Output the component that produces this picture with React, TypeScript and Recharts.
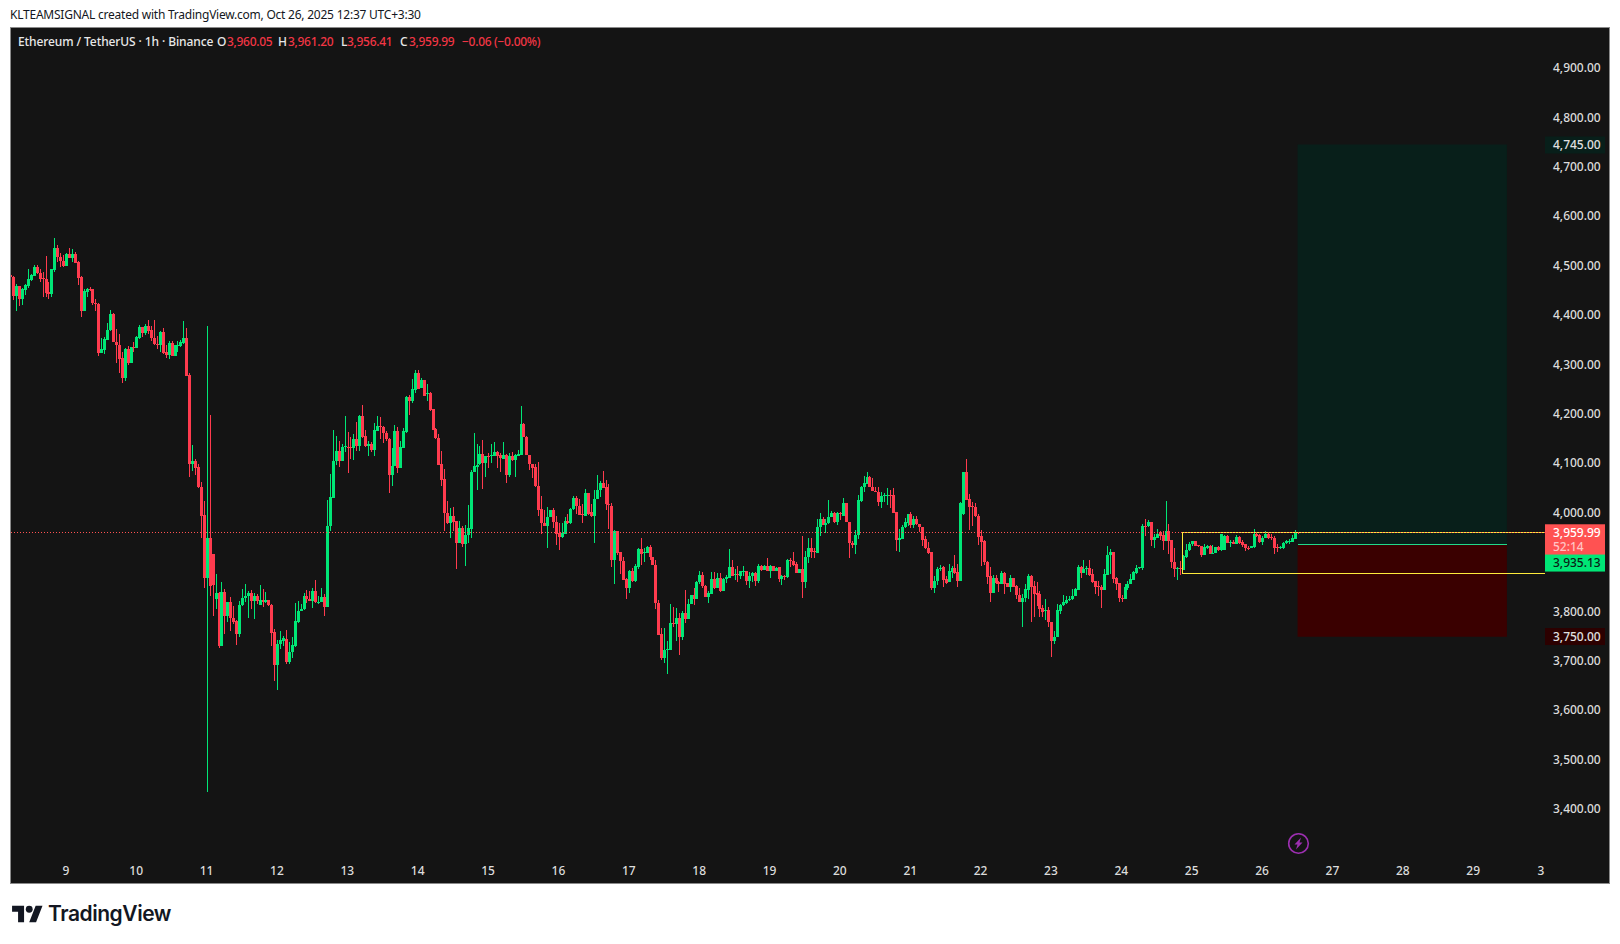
import {
  Bar,
  ComposedChart,
  ReferenceArea,
  ReferenceLine,
  XAxis,
  YAxis,
} from "recharts";

type Row = [number, number, number, number];

const GREEN = "#00e676";
const RED = "#ff3b4e";
const PANE_BG = "#141414";
const FONT = '"Noto Sans", sans-serif';

// hourly candles: open, high, low, close
const oct8: Row[] = [
  [4481, 4495, 4470, 4477], [4477, 4479, 4430, 4438], [4438, 4462, 4408, 4458], [4458, 4458, 4418, 4433],
  [4433, 4455, 4420, 4452], [4450, 4462, 4440, 4460], [4458, 4492, 4455, 4472], [4470, 4482, 4468, 4481],
  [4479, 4501, 4479, 4497], [4497, 4502, 4482, 4484], [4484, 4492, 4467, 4473], [4474, 4487, 4436, 4473],
  [4472, 4519, 4436, 4445], [4446, 4466, 4433, 4443], [4443, 4493, 4436, 4492], [4490, 4555, 4487, 4535],
  [4535, 4541, 4508, 4518], [4518, 4525, 4497, 4509], [4510, 4522, 4497, 4499],
];
const oct9: Row[] = [
  [4499, 4525, 4499, 4524], [4524, 4535, 4516, 4516], [4516, 4533, 4508, 4524], [4524, 4527, 4506, 4506],
  [4507, 4510, 4460, 4475], [4477, 4479, 4396, 4408], [4408, 4452, 4408, 4448], [4447, 4455, 4436, 4452],
  [4452, 4456, 4448, 4451], [4452, 4452, 4420, 4424], [4425, 4433, 4408, 4423], [4423, 4425, 4317, 4323],
  [4323, 4354, 4323, 4331], [4329, 4355, 4321, 4351], [4349, 4384, 4349, 4369], [4369, 4410, 4367, 4402],
  [4402, 4404, 4346, 4346], [4346, 4372, 4303, 4339], [4340, 4362, 4283, 4311], [4312, 4325, 4262, 4273],
  [4273, 4333, 4266, 4332], [4330, 4337, 4298, 4302], [4303, 4335, 4303, 4335], [4335, 4346, 4325, 4333],
];
const oct10: Row[] = [
  [4333, 4357, 4333, 4355], [4354, 4379, 4352, 4375], [4375, 4375, 4356, 4364], [4364, 4381, 4359, 4377],
  [4377, 4390, 4362, 4367], [4369, 4377, 4348, 4354], [4354, 4389, 4340, 4342], [4342, 4358, 4330, 4339],
  [4339, 4367, 4325, 4365], [4365, 4373, 4320, 4323], [4325, 4340, 4313, 4319], [4319, 4347, 4311, 4344],
  [4343, 4348, 4317, 4317], [4317, 4340, 4317, 4339], [4338, 4347, 4325, 4339], [4338, 4349, 4336, 4345],
  [4343, 4387, 4342, 4353], [4353, 4373, 4276, 4277], [4278, 4282, 4072, 4099], [4099, 4136, 4084, 4105],
  [4105, 4109, 4076, 4090], [4092, 4098, 4050, 4051], [4052, 4061, 3948, 3993], [3995, 4024, 3848, 3868],
];
const oct11: Row[] = [
  [3868, 4377, 3434, 3948], [3948, 4197, 3831, 3852], [3916, 3916, 3791, 3853], [3825, 3875, 3804, 3837],
  [3837, 3839, 3725, 3730], [3730, 3860, 3729, 3839], [3839, 3845, 3755, 3790], [3790, 3819, 3779, 3819],
  [3819, 3829, 3760, 3786], [3786, 3811, 3774, 3779], [3781, 3783, 3732, 3755], [3755, 3820, 3748, 3813],
  [3812, 3845, 3811, 3827], [3826, 3856, 3818, 3831], [3831, 3841, 3787, 3837], [3837, 3843, 3805, 3820],
  [3820, 3837, 3785, 3831], [3831, 3835, 3814, 3820], [3812, 3853, 3812, 3822], [3822, 3845, 3808, 3818],
  [3818, 3839, 3816, 3822], [3822, 3822, 3810, 3812], [3813, 3814, 3730, 3757], [3758, 3764, 3659, 3692],
];
const oct12: Row[] = [
  [3692, 3741, 3641, 3734], [3733, 3760, 3723, 3742], [3740, 3750, 3730, 3745], [3744, 3763, 3694, 3698],
  [3698, 3738, 3694, 3718], [3717, 3748, 3706, 3732], [3730, 3817, 3727, 3781], [3779, 3821, 3777, 3801],
  [3800, 3814, 3800, 3804], [3804, 3837, 3803, 3831], [3831, 3843, 3816, 3825], [3825, 3841, 3820, 3820],
  [3820, 3848, 3806, 3841], [3841, 3864, 3816, 3818], [3818, 3831, 3814, 3819], [3818, 3848, 3818, 3829],
  [3829, 3835, 3791, 3808], [3808, 4026, 3808, 3973], [3972, 4078, 3963, 4032], [4030, 4167, 4030, 4104],
  [4104, 4155, 4096, 4125], [4125, 4145, 4092, 4104], [4104, 4138, 4104, 4133], [4133, 4196, 4123, 4134],
];
const oct13: Row[] = [
  [4133, 4163, 4079, 4132], [4133, 4153, 4109, 4132], [4131, 4158, 4106, 4148], [4148, 4183, 4125, 4135],
  [4135, 4198, 4125, 4196], [4196, 4218, 4150, 4153], [4154, 4167, 4132, 4135], [4135, 4145, 4115, 4138],
  [4138, 4142, 4123, 4127], [4127, 4181, 4115, 4167], [4165, 4196, 4165, 4175], [4175, 4194, 4148, 4174],
  [4174, 4175, 4141, 4160], [4160, 4165, 4145, 4148], [4148, 4150, 4040, 4076], [4076, 4130, 4054, 4094],
  [4094, 4177, 4094, 4164], [4164, 4173, 4079, 4091], [4091, 4145, 4091, 4133], [4131, 4172, 4130, 4164],
  [4162, 4236, 4161, 4233], [4233, 4238, 4198, 4225], [4225, 4270, 4221, 4250], [4249, 4289, 4241, 4283],
];
const oct14: Row[] = [
  [4283, 4289, 4250, 4250], [4253, 4273, 4253, 4269], [4269, 4269, 4235, 4236], [4239, 4261, 4225, 4241],
  [4241, 4243, 4206, 4208], [4209, 4209, 4167, 4167], [4169, 4171, 4148, 4150], [4150, 4158, 4096, 4096],
  [4098, 4125, 4054, 4066], [4067, 4089, 3963, 3999], [3999, 4023, 3976, 3978], [3978, 4009, 3949, 3993],
  [3993, 4011, 3963, 3981], [3983, 3983, 3886, 3939], [3939, 3983, 3939, 3968], [3969, 3973, 3931, 3937],
  [3937, 3975, 3892, 3955], [3955, 4015, 3939, 3968], [3967, 4086, 3949, 4082], [4081, 4160, 4081, 4094],
  [4092, 4138, 4046, 4096], [4098, 4135, 4096, 4118], [4118, 4147, 4048, 4100], [4100, 4115, 4071, 4115],
];
const oct15: Row[] = [
  [4115, 4121, 4091, 4113], [4115, 4138, 4101, 4116], [4115, 4143, 4115, 4123], [4123, 4125, 4091, 4115],
  [4117, 4121, 4081, 4110], [4109, 4143, 4108, 4117], [4117, 4118, 4059, 4076], [4076, 4121, 4071, 4115],
  [4115, 4123, 4104, 4107], [4107, 4119, 4072, 4116], [4115, 4127, 4115, 4118], [4117, 4216, 4117, 4179],
  [4179, 4182, 4152, 4152], [4153, 4155, 4116, 4116], [4116, 4116, 4087, 4098], [4098, 4099, 4069, 4091],
  [4092, 4099, 4052, 4053], [4053, 4102, 3993, 4006], [4007, 4034, 3957, 3978], [3978, 4006, 3972, 3972],
  [3972, 4011, 3929, 3991], [3991, 4006, 3990, 4006], [4006, 4009, 3969, 3980], [3980, 3993, 3934, 3957],
];
const oct16: Row[] = [
  [3959, 3978, 3925, 3951], [3951, 3978, 3949, 3958], [3957, 3991, 3956, 3983], [3983, 3996, 3976, 3978],
  [3978, 4010, 3976, 4007], [4007, 4034, 4005, 4030], [4030, 4034, 3996, 4013], [4013, 4027, 3995, 3995],
  [3996, 4017, 3978, 3994], [3993, 4047, 3993, 4039], [4039, 4040, 3994, 3996], [4001, 4017, 3990, 3992],
  [3992, 4045, 3939, 4027], [4027, 4075, 4027, 4045], [4045, 4063, 4032, 4060], [4060, 4084, 4050, 4050],
  [4052, 4065, 4005, 4018], [4018, 4057, 3966, 4015], [4013, 4020, 3890, 3904], [3904, 3965, 3856, 3963],
  [3963, 3963, 3914, 3919], [3920, 3920, 3875, 3901], [3902, 3910, 3863, 3864], [3865, 3868, 3824, 3847],
];
const oct17: Row[] = [
  [3847, 3883, 3837, 3882], [3882, 3887, 3860, 3862], [3862, 3895, 3860, 3892], [3890, 3928, 3886, 3926],
  [3926, 3948, 3893, 3917], [3919, 3929, 3899, 3920], [3919, 3932, 3918, 3930], [3930, 3934, 3903, 3909],
  [3910, 3910, 3894, 3894], [3894, 3903, 3804, 3816], [3816, 3823, 3752, 3752], [3754, 3767, 3701, 3706],
  [3706, 3767, 3696, 3722], [3722, 3739, 3674, 3723], [3722, 3814, 3721, 3776], [3776, 3809, 3769, 3774],
  [3774, 3806, 3739, 3787], [3787, 3796, 3712, 3747], [3747, 3800, 3742, 3797], [3797, 3844, 3777, 3785],
  [3785, 3825, 3785, 3814], [3814, 3833, 3814, 3833], [3833, 3848, 3813, 3824], [3824, 3862, 3824, 3860],
];
const oct18: Row[] = [
  [3859, 3882, 3855, 3874], [3874, 3880, 3848, 3851], [3851, 3853, 3828, 3828], [3828, 3841, 3817, 3837],
  [3836, 3879, 3835, 3866], [3866, 3880, 3845, 3847], [3847, 3877, 3847, 3868], [3868, 3877, 3840, 3841],
  [3841, 3868, 3841, 3866], [3865, 3874, 3858, 3870], [3868, 3927, 3867, 3890], [3890, 3904, 3872, 3872],
  [3873, 3885, 3863, 3875], [3875, 3892, 3860, 3874], [3872, 3882, 3866, 3881], [3881, 3892, 3872, 3882],
  [3881, 3882, 3854, 3862], [3862, 3880, 3847, 3871], [3871, 3880, 3860, 3877], [3877, 3880, 3852, 3862],
  [3862, 3895, 3858, 3892], [3892, 3894, 3882, 3883], [3883, 3894, 3883, 3891], [3891, 3907, 3881, 3882],
];
const oct19: Row[] = [
  [3882, 3894, 3868, 3891], [3891, 3892, 3881, 3882], [3882, 3889, 3882, 3887], [3889, 3890, 3860, 3866],
  [3866, 3874, 3854, 3871], [3872, 3874, 3863, 3870], [3870, 3906, 3868, 3904], [3904, 3907, 3890, 3901],
  [3901, 3920, 3892, 3894], [3895, 3900, 3877, 3878], [3878, 3886, 3877, 3886], [3886, 3953, 3826, 3860],
  [3860, 3922, 3848, 3910], [3909, 3948, 3897, 3928], [3928, 3948, 3908, 3921], [3922, 3929, 3907, 3920],
  [3919, 3987, 3919, 3971], [3970, 3999, 3953, 3987], [3987, 3990, 3975, 3975], [3975, 3987, 3958, 3978],
  [3978, 4025, 3976, 3990], [3990, 4003, 3990, 4000], [3999, 4002, 3978, 3981], [3981, 4001, 3974, 4000],
];
const oct20: Row[] = [
  [4000, 4001, 3985, 3997], [3993, 4030, 3992, 4020], [4020, 4020, 3980, 3980], [3981, 3981, 3907, 3939],
  [3939, 3943, 3929, 3935], [3935, 3965, 3917, 3954], [3954, 4036, 3947, 4025], [4024, 4054, 4022, 4052],
  [4051, 4074, 4041, 4059], [4057, 4082, 4057, 4072], [4072, 4074, 4051, 4052], [4052, 4069, 4043, 4043],
  [4043, 4052, 4041, 4041], [4041, 4052, 4014, 4022], [4022, 4041, 4010, 4033], [4033, 4039, 4022, 4035],
  [4034, 4049, 4016, 4035], [4035, 4046, 4009, 4034], [4035, 4049, 4000, 4000], [4001, 4001, 3922, 3945],
  [3945, 3966, 3920, 3948], [3947, 3975, 3946, 3971], [3970, 3989, 3968, 3980], [3978, 3998, 3973, 3997],
];
const oct21: Row[] = [
  [3997, 4001, 3968, 3974], [3974, 3992, 3968, 3987], [3987, 3992, 3974, 3976], [3976, 3976, 3960, 3970],
  [3971, 3971, 3933, 3945], [3946, 3953, 3926, 3928], [3929, 3941, 3917, 3919], [3920, 3920, 3843, 3848],
  [3848, 3872, 3838, 3862], [3862, 3890, 3854, 3885], [3885, 3894, 3882, 3888], [3890, 3891, 3849, 3863],
  [3865, 3872, 3855, 3858], [3859, 3895, 3859, 3882], [3880, 3892, 3868, 3888], [3888, 3915, 3876, 3878],
  [3880, 3895, 3849, 3861], [3861, 4022, 3861, 4019], [3996, 4083, 3995, 4081], [4081, 4108, 4025, 4025],
  [4027, 4037, 3964, 4012], [4013, 4021, 3973, 4012], [4012, 4019, 3991, 3992], [3992, 3998, 3934, 3951],
];
const oct22: Row[] = [
  [3952, 3964, 3892, 3941], [3942, 3944, 3894, 3900], [3900, 3902, 3855, 3870], [3872, 3889, 3819, 3837],
  [3837, 3873, 3837, 3868], [3868, 3873, 3855, 3858], [3859, 3861, 3839, 3856], [3856, 3882, 3855, 3878],
  [3878, 3880, 3836, 3855], [3857, 3858, 3849, 3850], [3850, 3873, 3840, 3868], [3868, 3868, 3849, 3850],
  [3851, 3853, 3824, 3833], [3834, 3847, 3818, 3818], [3818, 3836, 3768, 3826], [3826, 3855, 3819, 3845],
  [3844, 3875, 3824, 3872], [3872, 3873, 3778, 3850], [3851, 3861, 3789, 3836], [3838, 3859, 3811, 3834],
  [3836, 3841, 3789, 3805], [3806, 3813, 3789, 3799], [3802, 3824, 3782, 3803], [3803, 3809, 3768, 3778],
];
const oct23: Row[] = [
  [3778, 3778, 3708, 3740], [3740, 3760, 3733, 3749], [3749, 3814, 3749, 3803], [3801, 3814, 3794, 3813],
  [3812, 3833, 3810, 3818], [3817, 3832, 3814, 3823], [3822, 3832, 3821, 3825], [3824, 3845, 3822, 3832],
  [3831, 3848, 3831, 3846], [3843, 3893, 3843, 3890], [3890, 3892, 3868, 3878], [3878, 3903, 3877, 3885],
  [3885, 3892, 3874, 3888], [3888, 3904, 3872, 3874], [3875, 3885, 3858, 3859], [3861, 3861, 3836, 3850],
  [3851, 3861, 3831, 3849], [3849, 3853, 3807, 3843], [3843, 3885, 3843, 3875], [3874, 3932, 3874, 3915],
  [3914, 3926, 3875, 3920], [3920, 3920, 3858, 3866], [3868, 3870, 3843, 3855], [3857, 3857, 3818, 3826],
];
const oct24: Row[] = [
  [3826, 3834, 3818, 3825], [3825, 3855, 3825, 3849], [3848, 3861, 3844, 3856], [3855, 3875, 3855, 3865],
  [3864, 3882, 3863, 3880], [3878, 3894, 3876, 3888], [3888, 3890, 3885, 3889], [3887, 3976, 3884, 3973],
  [3973, 3986, 3953, 3972], [3972, 3984, 3971, 3981], [3981, 3981, 3932, 3945], [3945, 3956, 3929, 3951],
  [3949, 3966, 3949, 3956], [3961, 3963, 3944, 3953], [3954, 3963, 3924, 3942], [3942, 4023, 3942, 3963],
  [3963, 3976, 3917, 3942], [3944, 3944, 3887, 3899], [3900, 3929, 3870, 3886], [3886, 3890, 3863, 3888],
  [3887, 3902, 3874, 3886], [3884, 3913, 3883, 3911], [3909, 3936, 3907, 3924], [3924, 3941, 3922, 3936],
];
const oct25: Row[] = [
  [3936, 3942, 3932, 3942], [3942, 3942, 3932, 3932], [3934, 3934, 3930, 3932], [3932, 3932, 3910, 3914],
  [3914, 3936, 3914, 3930], [3929, 3934, 3926, 3932], [3932, 3934, 3917, 3917], [3918, 3934, 3918, 3919],
  [3919, 3931, 3919, 3930], [3930, 3932, 3922, 3925], [3925, 3956, 3922, 3956], [3925, 3955, 3924, 3953],
  [3953, 3954, 3938, 3939], [3939, 3944, 3930, 3940], [3940, 3944, 3936, 3937], [3937, 3955, 3936, 3951],
  [3951, 3953, 3937, 3939], [3940, 3944, 3931, 3934], [3936, 3937, 3922, 3928], [3929, 3932, 3925, 3928],
  [3929, 3932, 3928, 3932], [3930, 3966, 3929, 3956], [3957, 3961, 3951, 3953], [3954, 3956, 3939, 3940],
];
const oct26: Row[] = [
  [3940, 3953, 3934, 3949], [3949, 3963, 3948, 3957], [3957, 3961, 3947, 3949], [3951, 3956, 3944, 3948],
  [3949, 3953, 3917, 3928], [3930, 3936, 3921, 3928], [3929, 3932, 3926, 3930], [3929, 3940, 3926, 3939],
  [3939, 3945, 3937, 3942], [3941, 3946, 3937, 3943], [3941, 3955, 3940, 3948], [3947, 3965, 3947, 3958],
  [3960.05, 3961.2, 3956.41, 3959.99],
];

const priceTicks = [3400, 3500, 3600, 3700, 3800, 4000, 4100, 4200, 4300, 4400, 4500, 4600, 4700, 4800, 4900];
const dayLabels = ["9", "10", "11", "12", "13", "14", "15", "16", "17", "18", "19", "20", "21", "22", "23", "24", "25", "26", "27", "28", "29", "3"];
const dayTicks = [19.7, 43.7, 67.7, 91.7, 115.7, 139.7, 163.7, 187.7, 211.7, 235.7, 259.7, 283.7, 307.7, 331.7, 355.7, 379.7, 403.7, 427.7, 451.7, 475.7, 499.7, 522.8];

const LAST_PRICE = 3959.99;
const ENTRY = 3935.13;
const TARGET = 4745;
const STOP = 3750;
const STOP_EDGE = 3748.5;
const BOX_LOW = 3876.9;

const candles = [
  ...oct8, ...oct9, ...oct10, ...oct11, ...oct12, ...oct13, ...oct14, ...oct15, ...oct16,
  ...oct17, ...oct18, ...oct19, ...oct20, ...oct21, ...oct22, ...oct23, ...oct24, ...oct25, ...oct26,
].map(([open, high, low, close], i) => ({
  index: i + 1,
  open,
  high,
  low,
  close,
  range: [low, high],
}));

const X_DOMAIN: [number, number] = [1, 524.19];
const Y_DOMAIN: [number, number] = [3306.7, 4980.8];
const POSITION_START = 439.8;
const POSITION_END = 511.2;
const BOX_START = 400.4;

const formatPrice = (v: number) =>
  v.toLocaleString("en-US", { minimumFractionDigits: 2, maximumFractionDigits: 2 });

function Candle(props: any) {
  const { x, y, width, height, payload } = props;
  const { open, high, low, close } = payload;
  const color = close >= open ? GREEN : RED;
  const cx = Math.round(x + width / 2 - 0.5);
  const top = height < 0 ? y + height : y;
  const h = Math.abs(height);
  const k = h / (high - low);
  const bodyTop = Math.round(top + (high - Math.max(open, close)) * k);
  const bodyBottom = Math.round(top + (high - Math.min(open, close)) * k);
  return (
    <g shapeRendering="crispEdges">
      <rect x={cx} y={top} width={1} height={Math.max(h, 1)} fill={color} />
      <rect x={cx - 1} y={bodyTop} width={3} height={Math.max(bodyBottom - bodyTop, 1)} fill={color} />
    </g>
  );
}

// price tag sitting in the axis column, follows the y scale through the reference line
function PriceTag(props: any) {
  const { viewBox, text, sub, bg, color, top = -8, boxHeight = 17 } = props;
  const left = viewBox.x + viewBox.width;
  const y = viewBox.y;
  return (
    <g>
      <rect x={left} y={y + top} width={60} height={boxHeight} fill={bg} />
      <text x={left + 8} y={y + top + 12.5} fill={color} fontSize={12} fontFamily={FONT} fontWeight={500}>
        {text}
      </text>
      {sub && (
        <text x={left + 8} y={y + top + 26.5} fill="#ffc4c4" fontSize={12} fontFamily={FONT} fontWeight={500}>
          {sub}
        </text>
      )}
    </g>
  );
}

function Legend() {
  const red = { color: "#f23645", letterSpacing: -0.3 };
  const white = { color: "#e8e8e8" };
  const cell = (left: number, text: string, style: any) => (
    <span style={{ position: "absolute", left, top: 0, whiteSpace: "pre", ...style }}>{text}</span>
  );
  return (
    <div style={{ position: "absolute", left: 0, top: 33, height: 18, fontFamily: FONT, fontSize: 12, fontWeight: 500, lineHeight: "18px" }}>
      {cell(18, "Ethereum / TetherUS · 1h · Binance", { ...white, letterSpacing: -0.1 })}
      {cell(217, "O", white)}
      {cell(227, "3,960.05", red)}
      {cell(278, "H", white)}
      {cell(288, "3,961.20", red)}
      {cell(341, "L", white)}
      {cell(347, "3,956.41", red)}
      {cell(400, "C", white)}
      {cell(409, "3,959.99", red)}
      {cell(462, "−0.06 (−0.00%)", red)}
    </div>
  );
}

export default function App() {
  return (
    <div style={{ position: "fixed", left: 0, top: 0, width: 1620, height: 944, background: "#fff", overflow: "hidden" }}>
      <div style={{ position: "absolute", left: 10, top: 6, fontFamily: FONT, fontSize: 12, lineHeight: "18px", color: "#131722", whiteSpace: "pre", letterSpacing: -0.23 }}>
        KLTEAMSIGNAL created with TradingView.com, Oct 26, 2025 12:37 UTC+3:30
      </div>

      <div style={{ position: "absolute", left: 10, top: 27, width: 1600, height: 857, boxSizing: "border-box", border: "1px solid #8a8a8a", background: PANE_BG }}>
        <ComposedChart width={1598} height={855} data={candles} margin={{ top: 0, right: 0, bottom: 0, left: 0 }}>
          <XAxis
            dataKey="index"
            type="number"
            domain={X_DOMAIN}
            ticks={dayTicks}
            interval={0}
            height={28}
            axisLine={false}
            tickLine={false}
            tickSize={0}
            tickMargin={11}
            tick={{ fill: "#dcdcdc", fontSize: 12, fontFamily: FONT, fontWeight: 500 }}
            tickFormatter={(v: number) => dayLabels[dayTicks.indexOf(v)]}
          />
          <YAxis
            orientation="right"
            type="number"
            domain={Y_DOMAIN}
            ticks={priceTicks}
            interval={0}
            width={64}
            axisLine={false}
            tickLine={false}
            tickSize={0}
            tickMargin={8}
            tick={{ fill: "#dcdcdc", fontSize: 12, fontFamily: FONT, fontWeight: 500, textAnchor: "start" }}
            tickFormatter={formatPrice}
          />

          <ReferenceArea x1={POSITION_START} x2={POSITION_END} y1={ENTRY} y2={TARGET} fill="#081f1a" fillOpacity={1} stroke="none" />
          <ReferenceArea x1={POSITION_START} x2={POSITION_END} y1={STOP_EDGE} y2={ENTRY} fill="#3a0000" fillOpacity={1} stroke="none" />
          <ReferenceLine
            segment={[{ x: POSITION_START, y: ENTRY }, { x: POSITION_END, y: ENTRY }]}
            stroke="#22d98a"
            strokeWidth={1}
            shapeRendering="crispEdges"
          />

          <Bar dataKey="range" barSize={3} shape={<Candle />} isAnimationActive={false} />

          <ReferenceLine
            segment={[{ x: BOX_START, y: LAST_PRICE }, { x: X_DOMAIN[1], y: LAST_PRICE }]}
            stroke="#ffeb3b"
            strokeWidth={1}
            shapeRendering="crispEdges"
          />
          <ReferenceLine
            segment={[{ x: BOX_START, y: BOX_LOW }, { x: X_DOMAIN[1], y: BOX_LOW }]}
            stroke="#ffeb3b"
            strokeWidth={1}
            shapeRendering="crispEdges"
          />
          <ReferenceLine
            segment={[{ x: BOX_START, y: BOX_LOW }, { x: BOX_START, y: LAST_PRICE }]}
            stroke="#ffeb3b"
            strokeWidth={1}
            shapeRendering="crispEdges"
          />
          <ReferenceLine y={LAST_PRICE} stroke="#ff5252" strokeWidth={1} strokeDasharray="1 2" shapeRendering="crispEdges" />

          <ReferenceLine
            y={TARGET}
            stroke="none"
            label={<PriceTag text={formatPrice(TARGET)} bg="#081f1a" color="#e0e0e0" />}
          />
          <ReferenceLine
            y={STOP}
            stroke="none"
            label={<PriceTag text={formatPrice(STOP)} bg="#2c0000" color="#e0e0e0" />}
          />
          <ReferenceLine
            y={LAST_PRICE}
            stroke="none"
            label={<PriceTag text={formatPrice(LAST_PRICE)} sub="52:14" bg="#ff5252" color="#ffffff" top={-8} boxHeight={31} />}
          />
          <ReferenceLine
            y={ENTRY}
            stroke="none"
            label={<PriceTag text={formatPrice(ENTRY)} bg="#00e676" color="#0b2015" top={10} />}
          />
        </ComposedChart>
      </div>

      <Legend />

      <svg style={{ position: "absolute", left: 1287, top: 832 }} width={23} height={23} viewBox="0 0 23 23">
        <circle cx={11.5} cy={11.5} r={9.8} fill="none" stroke="#9c2fb0" strokeWidth={1.6} />
        <path d="M14 5.5 L7.5 12.5 H10.5 L9 17.5 L15.5 10.5 H12.5 Z" fill="#9c2fb0" />
      </svg>

      <svg style={{ position: "absolute", left: 12, top: 905 }} width={31} height={18} viewBox="0 0 36 21">
        <path d="M14 20H7V8H0V1h14v19zM28 20h-8l7.5-19h8L28 20z" fill="#131722" />
        <circle cx={20} cy={5} r={4} fill="#131722" />
      </svg>
      <div style={{ position: "absolute", left: 48, top: 899, fontFamily: "Inter, sans-serif", fontSize: 21, fontWeight: 600, lineHeight: "30px", color: "#131722", letterSpacing: -0.45 }}>
        TradingView
      </div>
    </div>
  );
}
